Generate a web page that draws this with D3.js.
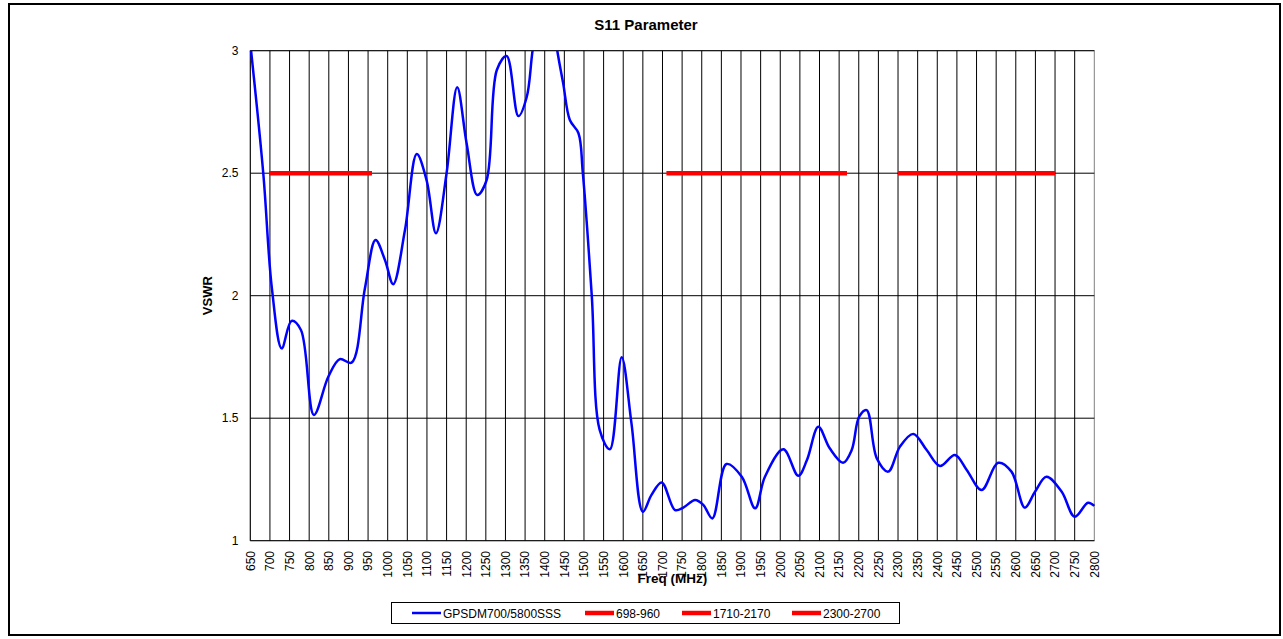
<!DOCTYPE html>
<html>
<head>
<meta charset="utf-8">
<script src="https://cdn.jsdelivr.net/npm/d3@7"></script>
<style>
    body { margin: 0; background: white; }
    text { font-family: "Liberation Sans", Arial, sans-serif; }
</style>
</head>
<body>
<div class="s11-plot"></div>
<script>
const freq = [650, 683, 705, 730, 755, 779, 812, 849, 878, 908, 942, 969, 993, 1014, 1044, 1074, 1099, 1123,
    1150, 1177, 1201, 1228, 1252, 1278, 1303, 1333, 1354, 1369, 1400, 1432, 1447, 1464, 1486, 1497, 1520,
    1540, 1566, 1596, 1621, 1650, 1672, 1698, 1732, 1753, 1783, 1804, 1827, 1863, 1902, 1936, 1961, 2008,
    2046, 2068, 2097, 2126, 2160, 2182, 2201, 2220, 2246, 2275, 2305, 2339, 2373, 2407, 2445, 2475, 2513,
    2555, 2589, 2623, 2649, 2678, 2717, 2750, 2784, 2800]
const vswr = [3.03, 2.5, 2.03, 1.785, 1.897, 1.86, 1.513, 1.67, 1.741, 1.727, 2.03, 2.227, 2.146, 2.047, 2.268, 2.578, 2.472, 2.255,
    2.5, 2.851, 2.622, 2.411, 2.472, 2.921, 2.978, 2.733, 2.81, 3.0, 3.35, 3.0, 2.867, 2.717, 2.663, 2.502, 1.996,
    1.452, 1.373, 1.749, 1.479, 1.118, 1.187, 1.238, 1.125, 1.135, 1.166, 1.146, 1.091, 1.313, 1.261, 1.132, 1.261, 1.373,
    1.265, 1.329, 1.465, 1.377, 1.318, 1.37, 1.506, 1.533, 1.336, 1.282, 1.384, 1.436, 1.37, 1.305, 1.35, 1.289, 1.207,
    1.318, 1.282, 1.135, 1.2, 1.261, 1.2, 1.098, 1.155, 1.142]

// Band limit lines
const bands = [
    {name: '698-960', from: 698, to: 960, level: 2.5},
    {name: '1710-2170', from: 1710, to: 2170, level: 2.5},
    {name: '2300-2700', from: 2300, to: 2700, level: 2.5}
]
const seriesName = 'GPSDM700/5800SSS'

const xTicks = d3.range(650, 2801, 50)
const yTicks = [1, 1.5, 2, 2.5, 3]

const width = 1283
const height = 639
let margin = {top: 50.7, right: 1283 - 1094.3, bottom: 639 - 540.7, left: 250.3}

let svg = d3.select('.s11-plot')
    .append('svg')
    .attr('width', width)
    .attr('height', height)

// outer chart border
svg.append('rect')
    .attr('x', 9)
    .attr('y', 4)
    .attr('width', 1271)
    .attr('height', 631)
    .attr('fill', 'white')
    .attr('stroke', 'black')
    .attr('stroke-width', 2)

let x = d3.scaleLinear()
    .domain([650, 2800])
    .range([margin.left, width - margin.right])

let y = d3.scaleLinear()
    .domain([1, 3])
    .range([height - margin.bottom, margin.top])

svg.append('text')
    .attr('x', 646)
    .attr('y', 30)
    .attr('text-anchor', 'middle')
    .attr('font-size', 15)
    .attr('font-weight', 'bold')
    .text('S11 Parameter')

// plot area frame
svg.append('rect')
    .attr('x', x(650))
    .attr('y', y(3))
    .attr('width', x(2800) - x(650))
    .attr('height', y(1) - y(3))
    .attr('fill', 'none')
    .attr('stroke', '#808080')
    .attr('stroke-width', 1)

// grid
svg.append('g')
    .selectAll('line')
    .data(xTicks.slice(1, -1))
    .enter()
    .append('line')
    .attr('x1', d => x(d))
    .attr('x2', d => x(d))
    .attr('y1', y(3))
    .attr('y2', y(1))
    .attr('stroke', 'black')
    .attr('stroke-width', 1)

svg.append('g')
    .selectAll('line')
    .data(yTicks.slice(1))
    .enter()
    .append('line')
    .attr('x1', x(650))
    .attr('x2', x(2800))
    .attr('y1', d => y(d))
    .attr('y2', d => y(d))
    .attr('stroke', 'black')
    .attr('stroke-width', 1)

// axes lines (left + bottom)
svg.append('line')
    .attr('x1', x(650)).attr('x2', x(650))
    .attr('y1', y(3)).attr('y2', y(1))
    .attr('stroke', 'black')
svg.append('line')
    .attr('x1', x(650)).attr('x2', x(2800))
    .attr('y1', y(1)).attr('y2', y(1))
    .attr('stroke', 'black')

// y tick labels
svg.append('g')
    .selectAll('text')
    .data(yTicks)
    .enter()
    .append('text')
    .attr('x', 238.5)
    .attr('y', d => y(d))
    .attr('dy', '0.35em')
    .attr('text-anchor', 'end')
    .attr('font-size', 12)
    .text(d => d)

// x tick labels, rotated
svg.append('g')
    .selectAll('text')
    .data(xTicks)
    .enter()
    .append('text')
    .attr('transform', d => 'translate(' + x(d) + ',551) rotate(-90)')
    .attr('dy', '0.36em')
    .attr('text-anchor', 'end')
    .attr('font-size', 12)
    .text(d => d)

svg.append('text')
    .attr('transform', 'translate(212,' + (y(2)) + ') rotate(-90)')
    .attr('text-anchor', 'middle')
    .attr('font-size', 13)
    .attr('font-weight', 'bold')
    .text('VSWR')

svg.append('text')
    .attr('x', (x(650) + x(2800)) / 2)
    .attr('y', 583)
    .attr('text-anchor', 'middle')
    .attr('font-size', 13.5)
    .attr('font-weight', 'bold')
    .text('Freq (MHz)')

// clip so the curve is cut at VSWR 3
svg.append('clipPath')
    .attr('id', 'plot-clip')
    .append('rect')
    .attr('x', x(650) - 2)
    .attr('y', y(3))
    .attr('width', x(2800) - x(650) + 4)
    .attr('height', y(1) - y(3))

let plot = svg.append('g').attr('clip-path', 'url(#plot-clip)')

plot.selectAll('.band')
    .data(bands)
    .enter()
    .append('line')
    .attr('class', 'band')
    .attr('x1', d => x(d.from))
    .attr('x2', d => x(d.to))
    .attr('y1', d => y(d.level))
    .attr('y2', d => y(d.level))
    .attr('stroke', '#ff0000')
    .attr('stroke-width', 4.5)

let line = d3.line()
    .x(d => x(d[0]))
    .y(d => y(d[1]))
    .curve(d3.curveCatmullRom.alpha(0.5))

plot.append('path')
    .datum(d3.zip(freq, vswr))
    .attr('d', line)
    .attr('fill', 'none')
    .attr('stroke', '#0000ff')
    .attr('stroke-width', 2.5)

// Legend
let legend = svg.append('g')
legend.append('rect')
    .attr('x', 391.5)
    .attr('y', 602.5)
    .attr('width', 508)
    .attr('height', 21)
    .attr('fill', 'white')
    .attr('stroke', 'black')
    .attr('stroke-width', 1)

let legendItems = [{name: seriesName, color: '#0000ff', w: 2.5, x0: 412}]
    .concat(bands.map((d, i) => ({name: d.name, color: '#ff0000', w: 4.5, x0: [585, 682, 792][i]})))

legend.selectAll('line')
    .data(legendItems)
    .enter()
    .append('line')
    .attr('x1', d => d.x0)
    .attr('x2', d => d.x0 + 29)
    .attr('y1', 613)
    .attr('y2', 613)
    .attr('stroke', d => d.color)
    .attr('stroke-width', d => d.w)

legend.selectAll('text')
    .data(legendItems)
    .enter()
    .append('text')
    .attr('x', d => d.x0 + 31)
    .attr('y', 617.5)
    .attr('font-size', 12)
    .text(d => d.name)
</script>
</body>
</html>
